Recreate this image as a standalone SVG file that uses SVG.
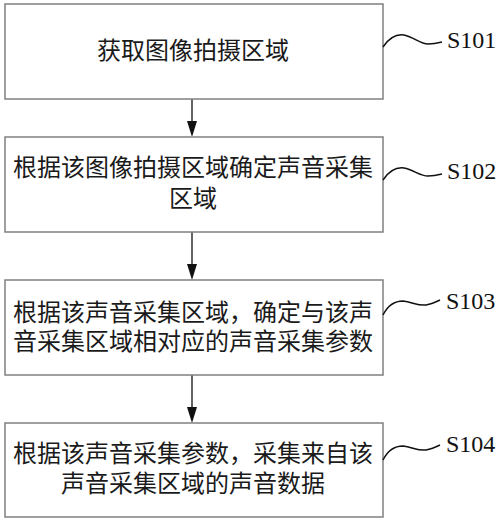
<svg xmlns="http://www.w3.org/2000/svg" width="500" height="520" viewBox="0 0 500 520">
<style>
.box{fill:#fff;stroke:#808080;stroke-width:1.5}
.t{font-family:"Liberation Serif","Noto Sans CJK SC","Noto Sans CJK JP",serif;font-size:24px;fill:#1a1a1a;text-anchor:middle}
.lbl{font-family:"Liberation Serif",serif;font-size:24px;fill:#111}
.sq{fill:none;stroke:#111;stroke-width:1.5}
.ln{stroke:#111;stroke-width:1.3;fill:none}
.ah{fill:#111}
</style>
<rect width="500" height="520" fill="#fff"/>
<g id="connectors">
<line class="ln" x1="192" y1="99" x2="192" y2="121"/>
<path class="ah" d="M187,121 L197,121 L192,137 Z"/>
<line class="ln" x1="192" y1="232" x2="192" y2="264"/>
<path class="ah" d="M187,264 L197,264 L192,280 Z"/>
<line class="ln" x1="192" y1="375" x2="192" y2="407"/>
<path class="ah" d="M187,407 L197,407 L192,423 Z"/>
</g>
<g id="s101">
<rect class="box" x="5" y="4" width="378" height="95"/>
<text class="t" x="193" y="59">获取图像拍摄区域</text>
<path class="sq" d="M383,47 C389,38 396,34 404,35 C414,37 420,44 428,44 C434,44 438,43 442,42"/>
<text class="lbl" x="447" y="48">S101</text>
</g>
<g id="s102">
<rect class="box" x="5" y="137" width="378" height="95"/>
<text class="t" x="193" y="175.5">根据该图像拍摄区域确定声音采集</text>
<text class="t" x="193" y="207">区域</text>
<path class="sq" d="M383,180 C389,171 396,167 404,168 C414,170 420,176 428,176 C434,176 438,175 442,174"/>
<text class="lbl" x="447" y="179">S102</text>
</g>
<g id="s103">
<rect class="box" x="5" y="280" width="378" height="95"/>
<text class="t" x="193" y="321">根据该声音采集区域，确定与该声</text>
<text class="t" x="193" y="350">音采集区域相对应的声音采集参数</text>
<path class="sq" d="M383,315 C388,305 395,301 403,301 C412,302 418,306 426,305 C432,304 436,302 440,300"/>
<text class="lbl" x="446" y="309">S103</text>
</g>
<g id="s104">
<rect class="box" x="5" y="423" width="378" height="94"/>
<text class="t" x="193" y="462">根据该声音采集参数，采集来自该</text>
<text class="t" x="193" y="492">声音采集区域的声音数据</text>
<path class="sq" d="M383,460 C388,450 395,446 403,446 C412,447 418,451 426,450 C432,449 436,447 440,445"/>
<text class="lbl" x="446" y="452">S104</text>
</g>
</svg>
